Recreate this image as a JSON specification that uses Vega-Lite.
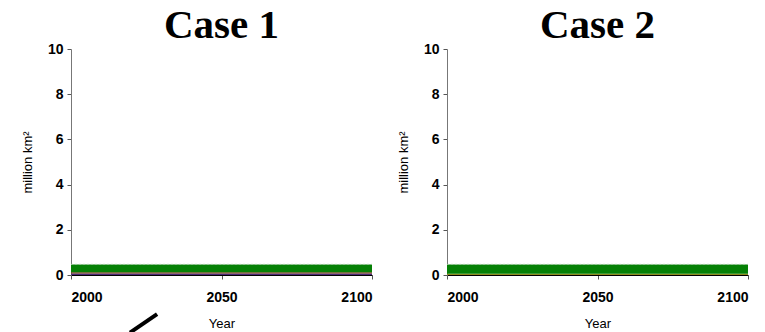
{
  "$schema": "https://vega.github.io/schema/vega-lite/v6.json",
  "padding": {"left": 21, "top": 5, "right": 5, "bottom": 0},
  "background": "white",
  "spacing": 75,
  "bounds": "flush",
  "config": {
    "view": {"stroke": null},
    "font": "Liberation Sans",
    "axis": {
      "grid": false,
      "labelFont": "Liberation Sans",
      "labelFontWeight": "bold",
      "labelFontSize": 14,
      "labelColor": "#000000",
      "titleFont": "Liberation Sans",
      "titleFontWeight": "normal",
      "titleFontSize": 13,
      "titleColor": "#000000",
      "tickSize": 4,
      "tickColor": "#555555",
      "domainColor": "#777777"
    },
    "title": {
      "font": "Liberation Serif",
      "fontSize": 41,
      "fontWeight": "bold",
      "color": "#000000",
      "anchor": "middle"
    }
  },
  "datasets": {
    "areas": [
      {"case": "Case 1", "series": "Purple", "order": 1, "year": 2000, "value": 0.07},
      {"case": "Case 1", "series": "Purple", "order": 1, "year": 2100, "value": 0.07},
      {"case": "Case 1", "series": "Brown", "order": 2, "year": 2000, "value": 0.05},
      {"case": "Case 1", "series": "Brown", "order": 2, "year": 2100, "value": 0.05},
      {"case": "Case 1", "series": "Green", "order": 3, "year": 2000, "value": 0.34},
      {"case": "Case 1", "series": "Green", "order": 3, "year": 2100, "value": 0.34},
      {"case": "Case 2", "series": "Olive", "order": 2, "year": 2000, "value": 0.06},
      {"case": "Case 2", "series": "Olive", "order": 2, "year": 2100, "value": 0.06},
      {"case": "Case 2", "series": "Green", "order": 3, "year": 2000, "value": 0.40},
      {"case": "Case 2", "series": "Green", "order": 3, "year": 2100, "value": 0.40}
    ],
    "toplines": [
      {"case": "Case 1", "year": 2000, "value": 0.47},
      {"case": "Case 1", "year": 2100, "value": 0.47},
      {"case": "Case 2", "year": 2000, "value": 0.47},
      {"case": "Case 2", "year": 2100, "value": 0.47}
    ],
    "arrow": [
      {"year": 2019.6, "value": -2.55, "year2": 2028.6, "value2": -1.73}
    ]
  },
  "hconcat": [
    {
      "width": 301,
      "height": 226,
      "title": {"text": "Case 1", "offset": -5},
      "layer": [
        {
          "data": {"name": "areas"},
          "transform": [{"filter": "datum.case === 'Case 1'"}],
          "mark": {"type": "area", "clip": true},
          "encoding": {
            "x": {"field": "year", "type": "quantitative", "scale": {"domain": [2000, 2100], "nice": false}, "axis": {"values": [2000, 2050, 2100], "format": "d", "title": "Year", "labelPadding": 11, "titlePadding": 13, "domainColor": "#000000"}},
            "y": {"field": "value", "type": "quantitative", "stack": "zero", "scale": {"domain": [0, 10], "nice": false}, "axis": {"values": [0, 2, 4, 6, 8, 10], "title": "million km²", "labelPadding": 4, "titlePadding": 13}},
            "color": {"field": "series", "type": "nominal", "scale": {"domain": ["Purple", "Brown", "Olive", "Green"], "range": ["#4b2a78", "#7a3b1a", "#8f8a1e", "#058005"]}, "legend": null},
            "order": {"field": "order", "type": "quantitative"}
          }
        },
        {
          "data": {"name": "toplines"},
          "transform": [{"filter": "datum.case === 'Case 1'"}],
          "mark": {"type": "line", "color": "#9cc79c", "strokeWidth": 1, "strokeDash": [2, 2]},
          "encoding": {
            "x": {"field": "year", "type": "quantitative"},
            "y": {"field": "value", "type": "quantitative"}
          }
        },
        {
          "data": {"name": "arrow"},
          "mark": {"type": "rule", "color": "#000000", "strokeWidth": 4, "clip": false},
          "encoding": {
            "x": {"field": "year", "type": "quantitative"},
            "y": {"field": "value", "type": "quantitative"},
            "x2": {"field": "year2"},
            "y2": {"field": "value2"}
          }
        }
      ]
    },
    {
      "width": 301,
      "height": 226,
      "title": {"text": "Case 2", "offset": -5},
      "layer": [
        {
          "data": {"name": "areas"},
          "transform": [{"filter": "datum.case === 'Case 2'"}],
          "mark": {"type": "area", "clip": true},
          "encoding": {
            "x": {"field": "year", "type": "quantitative", "scale": {"domain": [2000, 2100], "nice": false}, "axis": {"values": [2000, 2050, 2100], "format": "d", "title": "Year", "labelPadding": 11, "titlePadding": 13, "domainColor": "#000000"}},
            "y": {"field": "value", "type": "quantitative", "stack": "zero", "scale": {"domain": [0, 10], "nice": false}, "axis": {"values": [0, 2, 4, 6, 8, 10], "title": "million km²", "labelPadding": 4, "titlePadding": 13}},
            "color": {"field": "series", "type": "nominal", "scale": {"domain": ["Purple", "Brown", "Olive", "Green"], "range": ["#4b2a78", "#7a3b1a", "#8f8a1e", "#058005"]}, "legend": null},
            "order": {"field": "order", "type": "quantitative"}
          }
        },
        {
          "data": {"name": "toplines"},
          "transform": [{"filter": "datum.case === 'Case 2'"}],
          "mark": {"type": "line", "color": "#9cc79c", "strokeWidth": 1, "strokeDash": [2, 2]},
          "encoding": {
            "x": {"field": "year", "type": "quantitative"},
            "y": {"field": "value", "type": "quantitative"}
          }
        }
      ]
    }
  ]
}
